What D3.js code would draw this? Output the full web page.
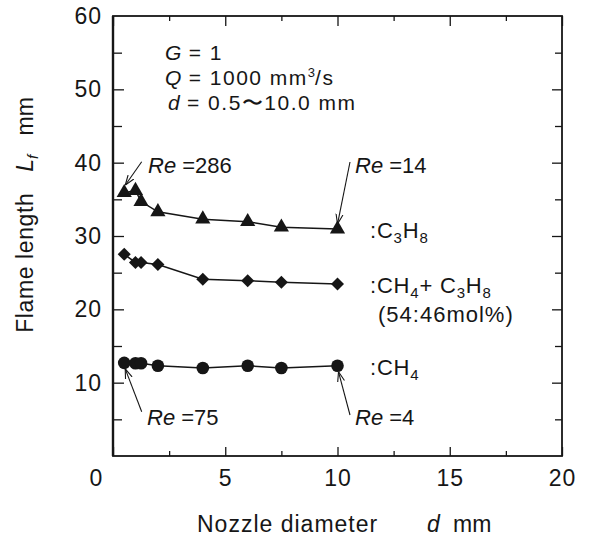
<!DOCTYPE html>
<html>
<head>
<meta charset="utf-8">
<script src="https://cdn.jsdelivr.net/npm/d3@7"></script>
<style>
  html, body { margin: 0; padding: 0; background: #fff; }
  svg { display: block; font-family: "Liberation Sans", Arial, Helvetica, sans-serif; }
</style>
</head>
<body>
<svg id="chart" width="592" height="540"></svg>
<script>
// Nozzle diameters (mm)
const diameters = [0.5, 1.0, 1.25, 2.0, 4.0, 6.0, 7.5, 10.0];
// Flame length Lf (mm) for each fuel
const lengthC3H8 = [35.9, 36.2, 34.7, 33.3, 32.3, 31.95, 31.2, 30.95];
const lengthMix  = [27.5, 26.4, 26.4, 26.1, 24.1, 23.9, 23.7, 23.45];
const lengthCH4  = [12.7, 12.65, 12.65, 12.3, 12.0, 12.3, 12.0, 12.3];
// Axis ticks
const xTicks = [0, 5, 10, 15, 20];
const xMinor = [2.5, 7.5, 12.5, 17.5];
const yTicks = [10, 20, 30, 40, 50];
const yLabels = [10, 20, 30, 40, 50, 60];
const yMinor = [5, 15, 25, 35, 45, 55];

const svg = d3.select("#chart");
const plotL = 113, plotR = 562, plotT = 16, plotB = 456;

const x = d3.scaleLinear().domain([0, 20]).range([plotL, plotR]);
const y = d3.scaleLinear().domain([0, 60]).range([plotB, plotT]);

const ink = "#161616";

// inward ticks on all four sides
function ticks(axis, pos, vals, size) {
  const g = svg.append("g").attr("transform", pos)
    .call(axis.tickValues(vals).tickSize(size).tickSizeOuter(0).tickFormat(""));
  g.select(".domain").remove();
  g.selectAll("line").attr("stroke", ink).attr("stroke-width", 1.3);
  return g;
}
ticks(d3.axisBottom(x), `translate(0,${plotB})`, xTicks, -9);
ticks(d3.axisBottom(x), `translate(0,${plotB})`, xMinor, -5);
ticks(d3.axisTop(x), `translate(0,${plotT})`, xTicks, -10);
ticks(d3.axisTop(x), `translate(0,${plotT})`, xMinor, -5);
ticks(d3.axisLeft(y), `translate(${plotL},0)`, yTicks, -11);
ticks(d3.axisLeft(y), `translate(${plotL},0)`, yMinor, -9);
ticks(d3.axisRight(y), `translate(${plotR},0)`, yTicks, -10);
ticks(d3.axisRight(y), `translate(${plotR},0)`, yMinor, -7);

// frame
svg.append("rect")
  .attr("x", plotL).attr("y", plotT)
  .attr("width", plotR - plotL).attr("height", plotB - plotT)
  .attr("fill", "none").attr("stroke", ink).attr("stroke-width", 1.8);
svg.append("line").attr("x1", plotL).attr("x2", plotL)
  .attr("y1", plotT).attr("y2", plotB).attr("stroke", ink).attr("stroke-width", 2.4);

// tick labels
const xl = svg.append("g").attr("transform", `translate(0,${plotB})`)
  .call(d3.axisBottom(x).tickValues(xTicks).tickSize(0).tickPadding(14).tickFormat(d3.format("d")));
xl.select(".domain").remove();
xl.selectAll("text").attr("font-size", 23).attr("fill", ink)
  .attr("font-family", "Liberation Sans, Arial, sans-serif")
  .attr("letter-spacing", 1)
  .attr("dx", d => d === 0 ? -17 : 0);

const yl = svg.append("g").attr("transform", `translate(${plotL},0)`)
  .call(d3.axisLeft(y).tickValues(yLabels).tickSize(0).tickPadding(11).tickFormat(d3.format("d")));
yl.select(".domain").remove();
yl.selectAll("text").attr("font-size", 23).attr("fill", ink)
  .attr("font-family", "Liberation Sans, Arial, sans-serif")
  .attr("letter-spacing", 1);

// axis titles
const xt = svg.append("text").attr("y", 532).attr("font-size", 23).attr("fill", ink);
xt.append("tspan").attr("x", 197).attr("letter-spacing", 1).text("Nozzle diameter");
xt.append("tspan").attr("x", 427).attr("font-style", "italic").text("d");
xt.append("tspan").attr("x", 453).text("mm");

const yt = svg.append("text").attr("transform", "translate(33,215) rotate(-90)")
  .attr("text-anchor", "middle").attr("font-size", 23).attr("fill", ink)
  .attr("xml:space", "preserve");
yt.append("tspan").attr("letter-spacing", 0.6).text("Flame length   ");
yt.append("tspan").attr("font-style", "italic").text("L");
yt.append("tspan").attr("font-style", "italic").attr("font-size", 15).attr("dy", 5).text("f");
yt.append("tspan").attr("dy", -5).text("   mm");

// series
const series = [
  { values: lengthC3H8, symbol: d3.symbolTriangle, size: 100, rot: 0 },
  { values: lengthMix,  symbol: d3.symbolSquare,   size: 85,  rot: 45 },
  { values: lengthCH4,  symbol: d3.symbolCircle,   size: 125, rot: 0 }
];
const line = d3.line().x(d => x(d[0])).y(d => y(d[1]));
series.forEach(s => {
  const pts = diameters.map((d, i) => [d, s.values[i]]);
  svg.append("path").attr("d", line(pts))
    .attr("fill", "none").attr("stroke", ink).attr("stroke-width", 1.5);
  svg.selectAll(null).data(pts).enter().append("path")
    .attr("transform", d => `translate(${x(d[0])},${y(d[1])}) rotate(${s.rot})`)
    .attr("d", d3.symbol().type(s.symbol).size(s.size))
    .attr("fill", ink);
});

// condition notes
const note = svg.append("g").attr("font-size", 21).attr("fill", ink);
const n1 = note.append("text").attr("x", 165).attr("y", 60).attr("xml:space", "preserve");
n1.append("tspan").attr("font-style", "italic").text("G");
n1.append("tspan").attr("letter-spacing", 1.5).text(" = 1");
const n2 = note.append("text").attr("x", 165).attr("y", 85).attr("xml:space", "preserve");
n2.append("tspan").attr("font-style", "italic").text("Q");
n2.append("tspan").attr("letter-spacing", 1.5).text(" = 1000 mm");
n2.append("tspan").attr("font-size", 13).attr("dy", -8).text("3");
n2.append("tspan").attr("dy", 8).attr("letter-spacing", 1.5).text("/s");
const n3 = note.append("text").attr("x", 168).attr("y", 110).attr("xml:space", "preserve");
n3.append("tspan").attr("font-style", "italic").text("d");
n3.append("tspan").attr("letter-spacing", 1.5).text(" = 0.5〜10.0 mm");

// fuel labels with subscripted atom counts
function chem(x0, y0, parts) {
  const el = svg.append("text").attr("x", x0).attr("y", y0)
    .attr("font-size", 22).attr("fill", ink).attr("letter-spacing", 0.8);
  let sub = false;
  parts.forEach(p => {
    const isSub = /^[0-9]$/.test(p);
    const ts = el.append("tspan").text(p);
    if (isSub) { ts.attr("font-size", 15).attr("dy", sub ? 0 : 5); sub = true; }
    else if (sub) { ts.attr("dy", -5); sub = false; }
  });
  return el;
}
chem(370, 238, [":C", "3", "H", "8"]);
chem(370, 293, [":CH", "4", "+ C", "3", "H", "8"]);
svg.append("text").attr("x", 378).attr("y", 322).attr("font-size", 22)
  .attr("letter-spacing", 1).attr("fill", ink).text("(54:46mol%)");
chem(370, 375, [":CH", "4"]);

// Reynolds number call-outs
svg.append("defs").append("marker")
  .attr("id", "head").attr("markerUnits", "userSpaceOnUse")
  .attr("viewBox", "0 -5 10 10").attr("refX", 10).attr("refY", 0)
  .attr("markerWidth", 10).attr("markerHeight", 10).attr("orient", "auto")
  .append("path").attr("d", "M0,-3.5L10,0L0,3.5").attr("fill", "none")
  .attr("stroke", ink).attr("stroke-width", 1.1);

const callouts = [
  { re: 286, vals: lengthC3H8, i: 0, from: [141.7, 161.7], off: [1, -7.5], tx: 148, ty: 173 },
  { re: 14,  vals: lengthC3H8, i: 7, from: [350, 162],     off: [0, -5],   tx: 355, ty: 173 },
  { re: 75,  vals: lengthCH4,  i: 0, from: [141.7, 411.7], off: [1, 6],    tx: 147, ty: 425 },
  { re: 4,   vals: lengthCH4,  i: 7, from: [350, 415],     off: [1, 6],    tx: 355, ty: 425 }
];
callouts.forEach(c => {
  const px = x(diameters[c.i]) + c.off[0], py = y(c.vals[c.i]) + c.off[1];
  svg.append("line").attr("x1", c.from[0]).attr("y1", c.from[1])
    .attr("x2", px).attr("y2", py)
    .attr("stroke", ink).attr("stroke-width", 1.1).attr("marker-end", "url(#head)");
  const t = svg.append("text").attr("x", c.tx).attr("y", c.ty)
    .attr("font-size", 22).attr("fill", ink).attr("xml:space", "preserve");
  t.append("tspan").attr("font-style", "italic").text("Re");
  t.append("tspan").text(" =" + c.re);
});
</script>
</body>
</html>
